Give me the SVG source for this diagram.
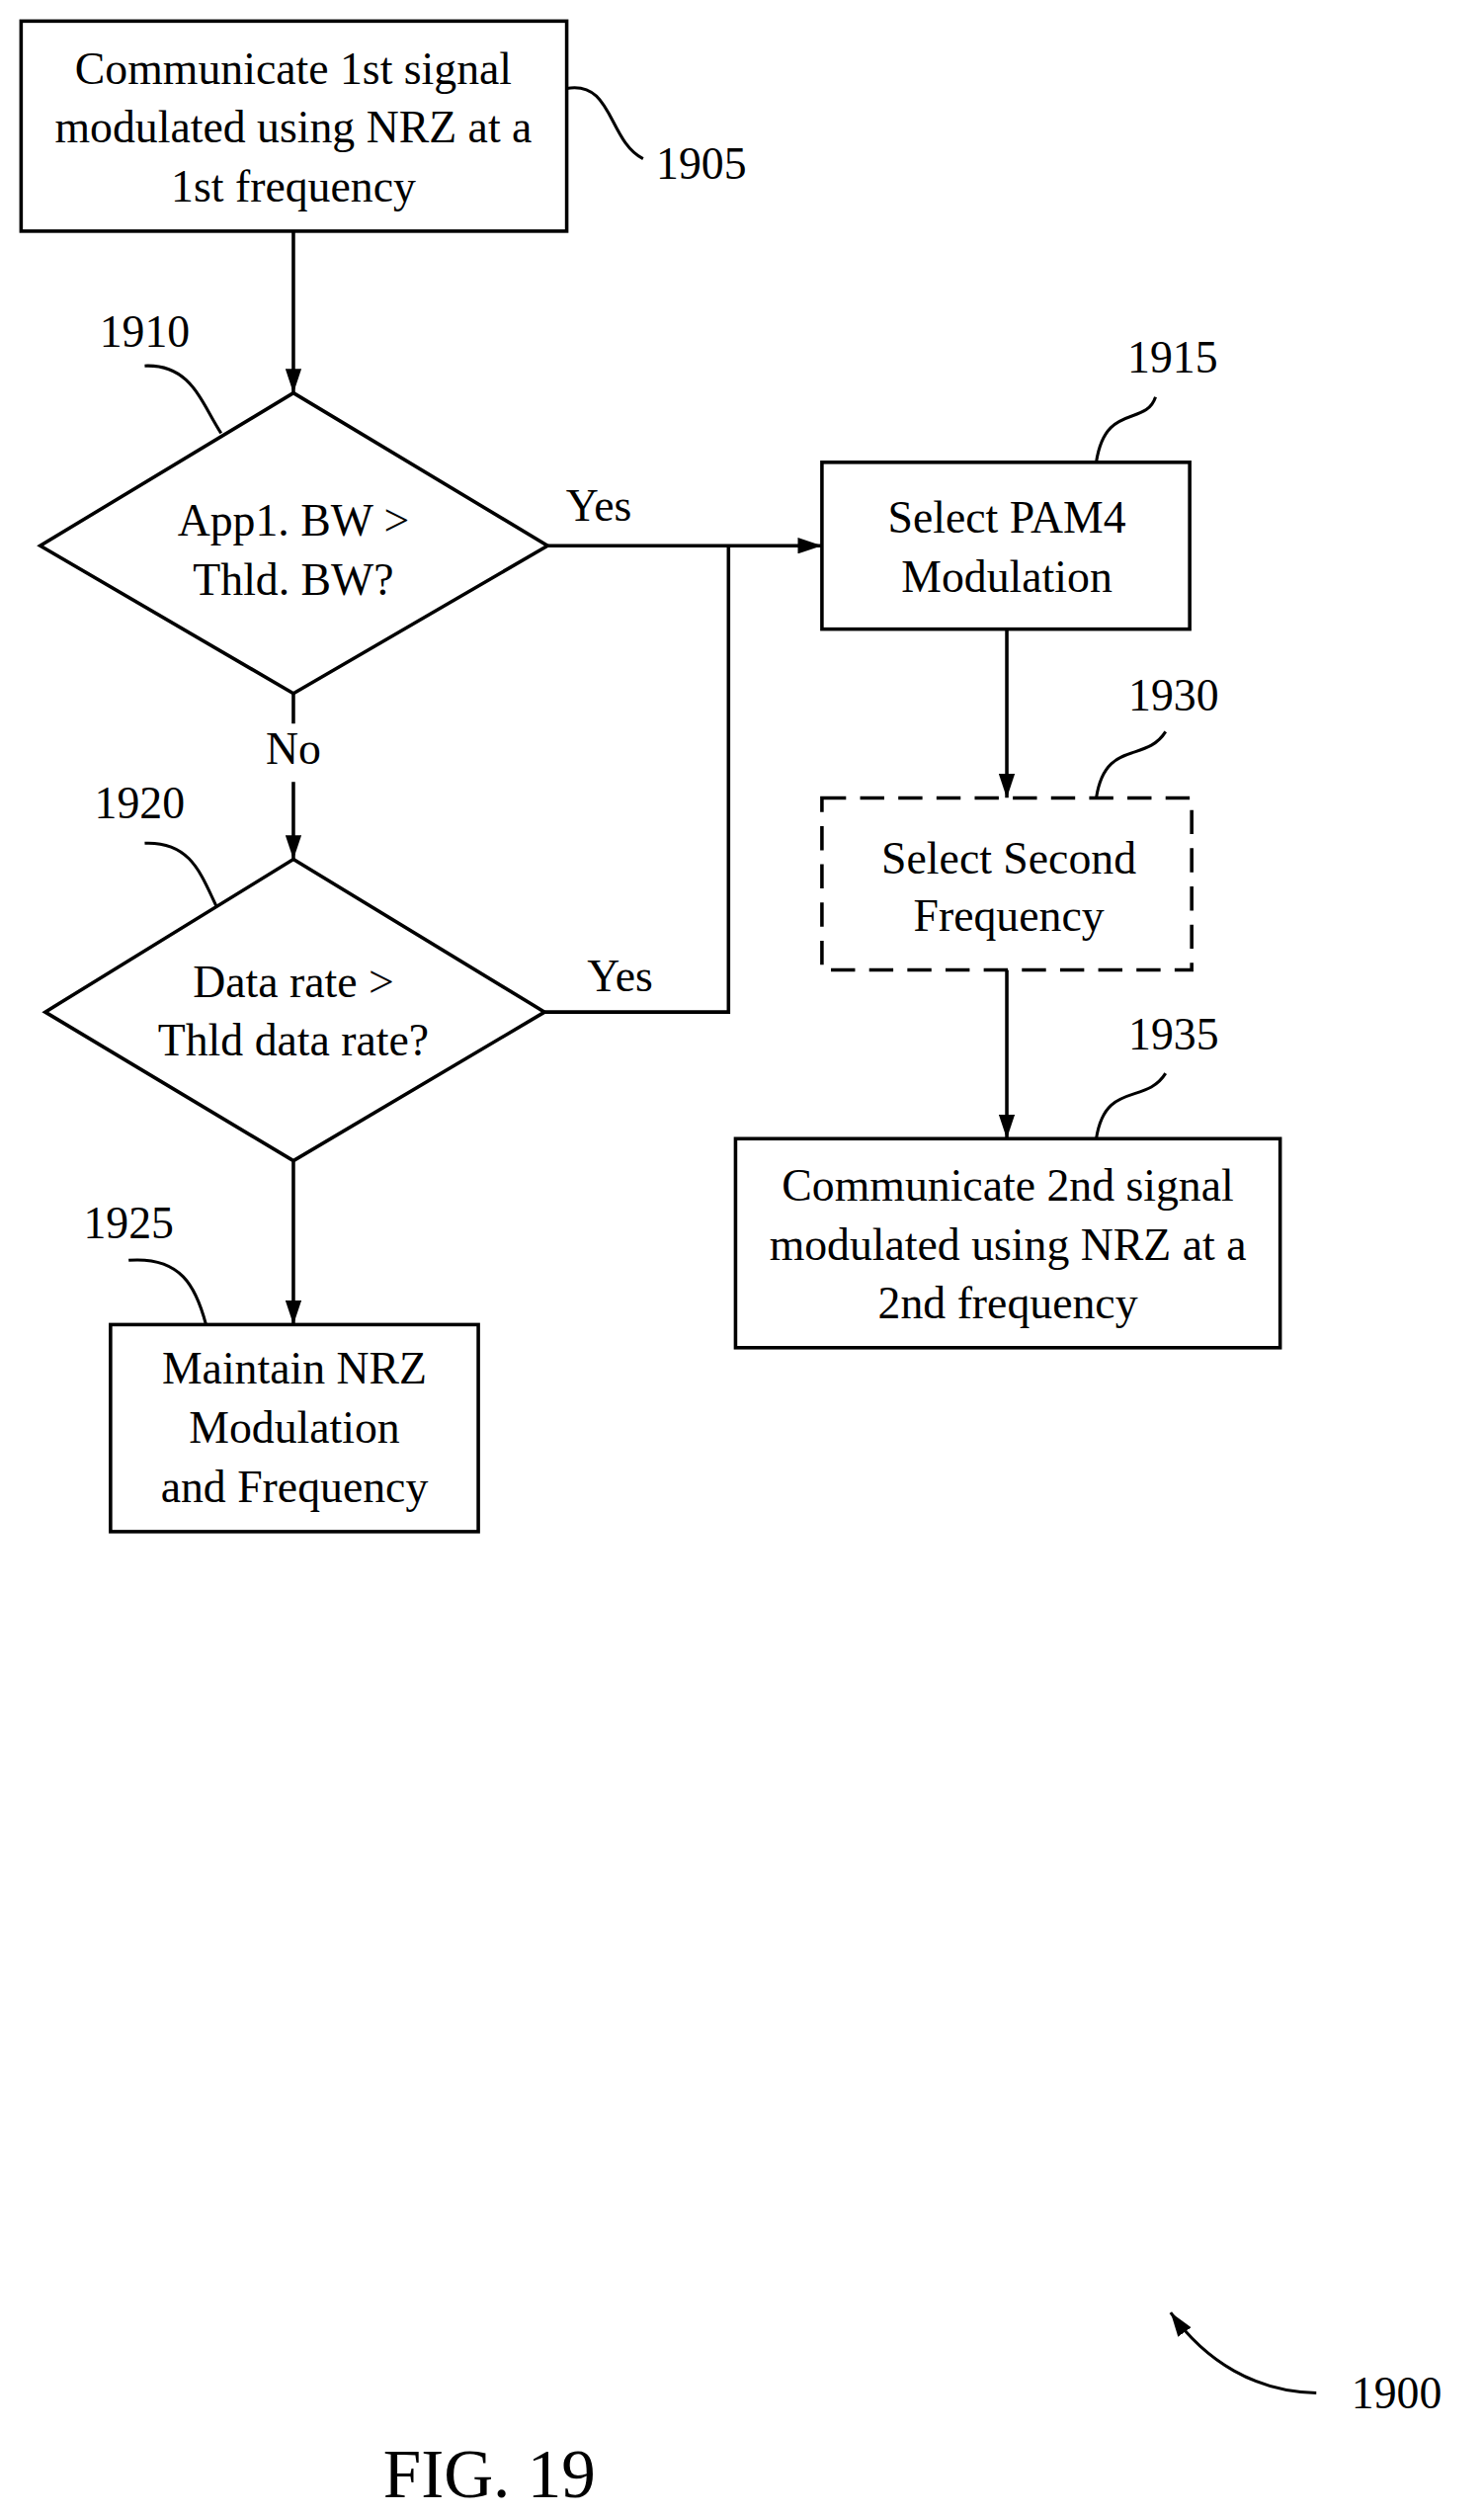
<svg xmlns="http://www.w3.org/2000/svg" width="1502" height="2545" viewBox="0 0 1502 2545">
<defs>
<marker id="a" viewBox="0 0 24 16" refX="24" refY="8" markerWidth="24" markerHeight="16" orient="auto" markerUnits="userSpaceOnUse"><path d="M0,0 L24,8 L0,16 Z" fill="#000"/></marker>
</defs>
<style>
text{font-family:"Liberation Serif",serif;font-size:45px;fill:#000;text-anchor:middle}
.s{fill:#fff;stroke:#000;stroke-width:3.5}
.l{fill:none;stroke:#000;stroke-width:3.5}
.q{fill:none;stroke:#000;stroke-width:3}
.n{text-anchor:start}
</style>
<rect width="1502" height="2545" fill="#fff"/>
<g transform="scale(1.017)">
<g id="connectors">
<line class="l" x1="292" y1="230" x2="292" y2="391" marker-end="url(#a)"/>
<line class="l" x1="545" y1="543" x2="818" y2="543" marker-end="url(#a)"/>
<polyline class="l" points="542,1007 725,1007 725,543"/>
<line class="l" x1="292" y1="690" x2="292" y2="720"/>
<line class="l" x1="292" y1="778" x2="292" y2="855" marker-end="url(#a)"/>
<line class="l" x1="292" y1="1155" x2="292" y2="1318" marker-end="url(#a)"/>
<line class="l" x1="1002" y1="626" x2="1002" y2="794" marker-end="url(#a)"/>
<line class="l" x1="1002" y1="965" x2="1002" y2="1133" marker-end="url(#a)"/>
<text x="596" y="518">Yes</text>
<text x="617" y="986">Yes</text>
<text x="292" y="760">No</text>
</g>
<g id="n1905">
<rect class="s" x="21" y="21" width="543" height="209"/>
<text x="292" y="84">Communicate 1st signal</text>
<text x="292" y="142">modulated using NRZ at a</text>
<text x="292" y="201">1st frequency</text>
<path class="q" d="M564,88 C610,80 605,140 640,158"/>
<text class="n" x="653" y="178">1905</text>
</g>
<g id="n1910">
<polygon class="s" points="292,391 545,543 292,690 40,543"/>
<text x="292" y="533">App1. BW &gt;</text>
<text x="292" y="592">Thld. BW?</text>
<path class="q" d="M144,364 C190,362 200,400 220,431"/>
<text x="144" y="345">1910</text>
</g>
<g id="n1915">
<rect class="s" x="818" y="460" width="366" height="166"/>
<text x="1002" y="530">Select PAM4</text>
<text x="1002" y="589">Modulation</text>
<path class="q" d="M1091,460 C1100,400 1140,425 1150,395"/>
<text x="1167" y="371">1915</text>
</g>
<g id="n1920">
<polygon class="s" points="292,855 542,1007 292,1155 45,1007"/>
<text x="292" y="992">Data rate &gt;</text>
<text x="292" y="1050">Thld data rate?</text>
<path class="q" d="M144,839 C190,837 200,870 216,903"/>
<text x="139" y="814">1920</text>
</g>
<g id="n1925">
<rect class="s" x="110" y="1318" width="366" height="206"/>
<text x="293" y="1377">Maintain NRZ</text>
<text x="293" y="1436">Modulation</text>
<text x="293" y="1495">and Frequency</text>
<path class="q" d="M128,1254 C180,1250 195,1280 205,1318"/>
<text x="128" y="1232">1925</text>
</g>
<g id="n1930">
<rect class="s" x="818" y="794" width="368" height="171" stroke-dasharray="24,14"/>
<text x="1004" y="869">Select Second</text>
<text x="1004" y="926">Frequency</text>
<path class="q" d="M1091,794 C1100,735 1140,760 1160,728"/>
<text x="1168" y="707">1930</text>
</g>
<g id="n1935">
<rect class="s" x="732" y="1133" width="542" height="208"/>
<text x="1003" y="1195">Communicate 2nd signal</text>
<text x="1003" y="1254">modulated using NRZ at a</text>
<text x="1003" y="1312">2nd frequency</text>
<path class="q" d="M1091,1133 C1100,1075 1140,1100 1160,1068"/>
<text x="1168" y="1044">1935</text>
</g>
<g id="fig">
<path class="q" d="M1310,2381 C1250,2380 1200,2350 1165,2301" marker-end="url(#a)"/>
<text class="n" x="1345" y="2396">1900</text>
<text x="487" y="2485" style="font-size:68px">FIG. 19</text>
</g>
</g>
</svg>
